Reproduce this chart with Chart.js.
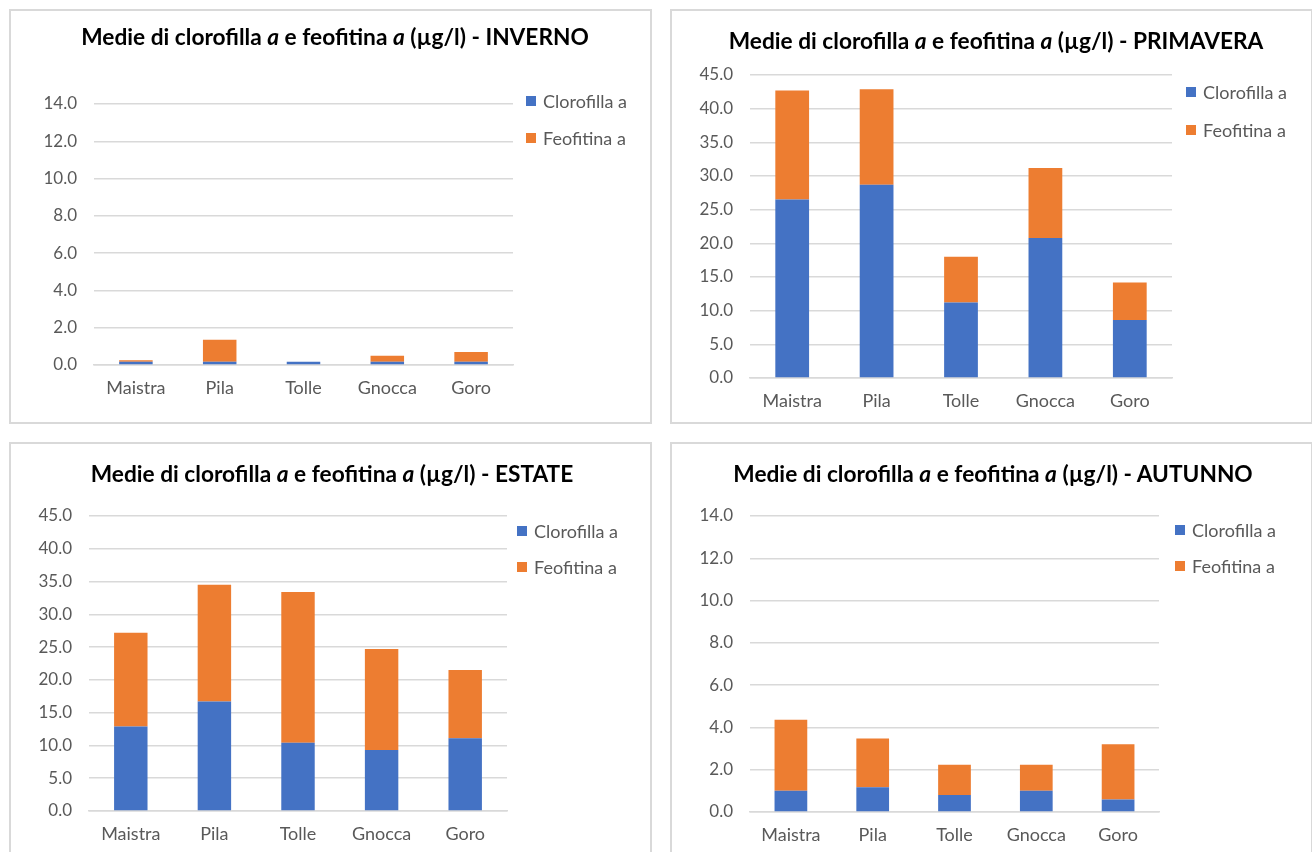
<!DOCTYPE html>
<html lang="it">
<head>
<meta charset="utf-8">
<title>Medie di clorofilla a e feofitina a</title>
<script src="https://cdn.jsdelivr.net/npm/chart.js@4.4.1/dist/chart.umd.min.js"></script>
<style>
  html, body { margin: 0; padding: 0; background: #ffffff; overflow: hidden; }
  body { width: 1312px; height: 852px; position: relative; }
  .panel {
    position: absolute; width: 643px; height: 415px;
    box-sizing: border-box; border: 2px solid #d9d9d9; background: #fff;
  }
  .panel canvas { position: absolute; left: 0; top: 0; }
  .title {
    position: absolute; transform: translate(-50%, -50%);
    white-space: nowrap; font-family: Lato, "Open Sans", sans-serif;
    font-weight: bold; font-size: 22.7px; color: #000;
  }
</style>
</head>
<body>
<div class="panel" style="left:9px;top:9px">
  <canvas id="cInverno" width="639" height="411"></canvas>
  <div class="title" style="left:324px;top:25px">Medie di clorofilla <i>a</i> e feofitina <i>a</i> (µg/l) - INVERNO</div>
</div>
<div class="panel" style="left:670px;top:9px">
  <canvas id="cPrimavera" width="639" height="411"></canvas>
  <div class="title" style="left:324px;top:29px">Medie di clorofilla <i>a</i> e feofitina <i>a</i> (µg/l) - PRIMAVERA</div>
</div>
<div class="panel" style="left:9px;top:442px">
  <canvas id="cEstate" width="639" height="411"></canvas>
  <div class="title" style="left:321px;top:29px">Medie di clorofilla <i>a</i> e feofitina <i>a</i> (µg/l) - ESTATE</div>
</div>
<div class="panel" style="left:670px;top:442px">
  <canvas id="cAutunno" width="639" height="411"></canvas>
  <div class="title" style="left:321px;top:29px">Medie di clorofilla <i>a</i> e feofitina <i>a</i> (µg/l) - AUTUNNO</div>
</div>

<script>
// Stazioni di campionamento
const stazioni = ['Maistra', 'Pila', 'Tolle', 'Gnocca', 'Goro'];
const serieNomi = ['Clorofilla a', 'Feofitina a'];

// Medie stagionali (µg/l)
const invernoClorofilla   = [0.18, 0.18, 0.18, 0.18, 0.18];
const invernoFeofitina    = [0.07, 1.18, 0.0, 0.32, 0.52];
const primaveraClorofilla = [26.5, 28.7, 11.2, 20.8, 8.6];
const primaveraFeofitina  = [16.2, 14.2, 6.8, 10.4, 5.6];
const estateClorofilla    = [12.9, 16.7, 10.4, 9.3, 11.1];
const estateFeofitina     = [14.3, 17.8, 23.0, 15.4, 10.4];
const autunnoClorofilla   = [1.0, 1.17, 0.8, 1.0, 0.59];
const autunnoFeofitina    = [3.36, 2.31, 1.43, 1.23, 2.62];

// Scale dell'asse y
const scalaBassa = { max: 14, step: 2 };
const scalaAlta  = { max: 45, step: 5 };

const BLU = '#4472C4';
const ARANCIO = '#ED7D31';
const GRIGIO_TESTO = '#595959';
const GRIGLIA = '#d9d9d9';
const FONT = 'Lato, "Open Sans", sans-serif';

// Legenda verticale a destra dell'area del grafico
const legendaLaterale = {
  id: 'legendaLaterale',
  afterDraw(chart, args, opts) {
    const { ctx, chartArea } = chart;
    ctx.save();
    ctx.font = opts.fontSize + 'px ' + FONT;
    ctx.textBaseline = 'middle';
    ctx.textAlign = 'left';
    chart.data.datasets.forEach((ds, i) => {
      const x = chartArea.right + opts.offset;
      const y = opts.top + i * opts.gap;
      ctx.fillStyle = ds.backgroundColor;
      ctx.fillRect(x, y - 5, 10, 10);
      ctx.fillStyle = GRIGIO_TESTO;
      ctx.fillText(ds.label, x + 17, y + 1);
    });
    ctx.restore();
  }
};

function creaGrafico(id, clorofilla, feofitina, scala, g) {
  new Chart(document.getElementById(id), {
    type: 'bar',
    data: {
      labels: stazioni,
      datasets: [
        { label: serieNomi[0], data: clorofilla, backgroundColor: BLU,
          categoryPercentage: 1, barPercentage: 0.4 },
        { label: serieNomi[1], data: feofitina, backgroundColor: ARANCIO,
          categoryPercentage: 1, barPercentage: 0.4 }
      ]
    },
    options: {
      responsive: false,
      animation: false,
      events: [],
      layout: { padding: { left: 0, top: g.top, right: g.right, bottom: 0 } },
      plugins: {
        legend: { display: false },
        title: { display: false },
        tooltip: { enabled: false },
        legendaLaterale: g.legend
      },
      scales: {
        x: {
          stacked: true,
          afterFit: (s) => { s.height = g.xHeight; },
          grid: { display: false, drawTicks: false },
          border: { display: true, color: GRIGLIA, width: 1.5 },
          ticks: { color: GRIGIO_TESTO, padding: 12, font: { family: FONT, size: 18 } }
        },
        y: {
          stacked: true,
          min: 0, max: scala.max,
          afterFit: (s) => { s.width = g.yWidth; },
          grid: { color: GRIGLIA, lineWidth: 1.5, drawTicks: false },
          border: { display: false },
          ticks: {
            stepSize: scala.step, padding: 17, color: GRIGIO_TESTO,
            font: { family: FONT, size: 17 },
            callback: (v) => Number(v).toFixed(1)
          }
        }
      }
    },
    plugins: [legendaLaterale]
  });
}

creaGrafico('cInverno', invernoClorofilla, invernoFeofitina, scalaBassa,
  { top: 93, right: 137, yWidth: 83, xHeight: 57,
    legend: { offset: 13, top: 90, gap: 37, fontSize: 18 } });
creaGrafico('cPrimavera', primaveraClorofilla, primaveraFeofitina, scalaAlta,
  { top: 64, right: 139, yWidth: 78, xHeight: 44,
    legend: { offset: 14, top: 81, gap: 38, fontSize: 18 } });
creaGrafico('cEstate', estateClorofilla, estateFeofitina, scalaAlta,
  { top: 72, right: 143, yWidth: 78, xHeight: 44,
    legend: { offset: 10, top: 87, gap: 36, fontSize: 18 } });
creaGrafico('cAutunno', autunnoClorofilla, autunnoFeofitina, scalaBassa,
  { top: 72, right: 152, yWidth: 78, xHeight: 43,
    legend: { offset: 16, top: 86, gap: 36, fontSize: 18 } });
</script>
</body>
</html>
